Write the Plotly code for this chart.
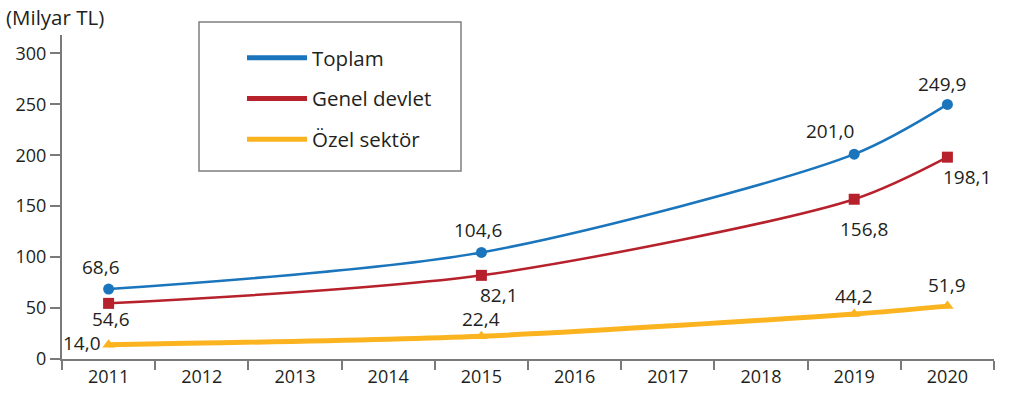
import plotly.graph_objects as go

all_years = list(range(2011, 2021))
years = [2011, 2015, 2019, 2020]
toplam = [68.6, 104.6, 201.0, 249.9]
genel = [54.6, 82.1, 156.8, 198.1]
ozel = [14.0, 22.4, 44.2, 51.9]
y_ticks = [0, 50, 100, 150, 200, 250, 300]

names = ["Toplam", "Genel devlet", "Özel sektör"]
colors = ["#1a75bc", "#b7212b", "#fbb320"]
widths = [2.5, 2.5, 5]
symbols = ["circle", "square", "triangle-up"]
msizes = [11, 11, 11]
series = [toplam, genel, ozel]

# label offsets (px): (xshift, yshift)
label_shifts = [
    [(-8, 22), (-3, 22), (-24, 23), (-5, 20)],
    [(2, -16), (18, -20), (10, -30), (20, -20)],
    [(-27, 2), (0, 17), (0, 18), (0, 21)],
]

FONT = "Open Sans"
TXT = "#231f20"
fig = go.Figure()
for i, (name, vals) in enumerate(zip(names, series)):
    fig.add_trace(go.Scatter(
        x=years, y=vals, name=name, mode="lines",
        line=dict(color=colors[i], width=widths[i], shape="spline", smoothing=0.8),
        legendgroup=name, showlegend=False, hoverinfo="skip",
    ))
    fig.add_trace(go.Scatter(
        x=years, y=vals, name=name, mode="markers",
        marker=dict(symbol=symbols[i], size=msizes[i], color=colors[i]),
        legendgroup=name, showlegend=False, hoverinfo="skip",
    ))
    # legend entry (thick line sample, no data)
    fig.add_trace(go.Scatter(
        x=[None], y=[None], name=name, mode="lines",
        line=dict(color=colors[i], width=5), legendgroup=name, showlegend=True,
    ))
    for j, (x, v) in enumerate(zip(years, vals)):
        dx, dy = label_shifts[i][j]
        fig.add_annotation(x=x, y=v, text=f"{v:.1f}".replace(".", ","),
                           showarrow=False, xshift=dx, yshift=dy,
                           font=dict(family=FONT, size=19, color=TXT))

fig.add_annotation(xref="paper", yref="paper", x=-0.062, y=1.056,
                   xanchor="left", yanchor="middle", showarrow=False,
                   text="(Milyar TL)", font=dict(family=FONT, size=20.5, color=TXT))

# legend frame
fig.add_shape(type="rect", xref="paper", yref="paper",
              x0=(199 - 62) / 932, x1=(461 - 62) / 932,
              y0=(359 - 171) / 324, y1=(359 - 22) / 324,
              line=dict(color="#7f7f7f", width=1.5), fillcolor="white", layer="below")

fig.update_layout(
    width=1031, height=400,
    margin=dict(l=62, r=37, t=35, b=41),
    paper_bgcolor="white", plot_bgcolor="white",
    font=dict(family=FONT, size=18, color=TXT),
    showlegend=True,
    legend=dict(x=(242 - 62) / 932, y=(359 - 38) / 324, xanchor="left", yanchor="top",
                bgcolor="rgba(0,0,0,0)", borderwidth=0, tracegroupgap=11,
                itemwidth=60, font=dict(family=FONT, size=20.5, color=TXT)),
    xaxis=dict(range=[2010.5, 2020.5], tickmode="array", tickvals=all_years,
               ticktext=[str(y) for y in all_years], ticks="", showgrid=False,
               zeroline=False, showline=True, linecolor="#7a7a7a", linewidth=2,
               tickfont=dict(family=FONT, size=18, color=TXT),
               minor=dict(tickmode="array", tickvals=[y - 0.5 for y in all_years] + [2020.5],
                          ticks="outside", ticklen=9, tickwidth=2, tickcolor="#7a7a7a",
                          showgrid=False)),
    yaxis=dict(range=[0, 318], tickmode="array", tickvals=y_ticks, ticks="outside",
               ticklen=10, tickwidth=2, tickcolor="#7a7a7a", showgrid=False,
               zeroline=False, showline=True, linecolor="#7a7a7a", linewidth=2,
               tickfont=dict(family=FONT, size=18, color=TXT)),
)
fig.write_html("out.html", config={"displayModeBar": False},
               post_script="document.body.style.margin='0';document.body.style.overflow='hidden';")
